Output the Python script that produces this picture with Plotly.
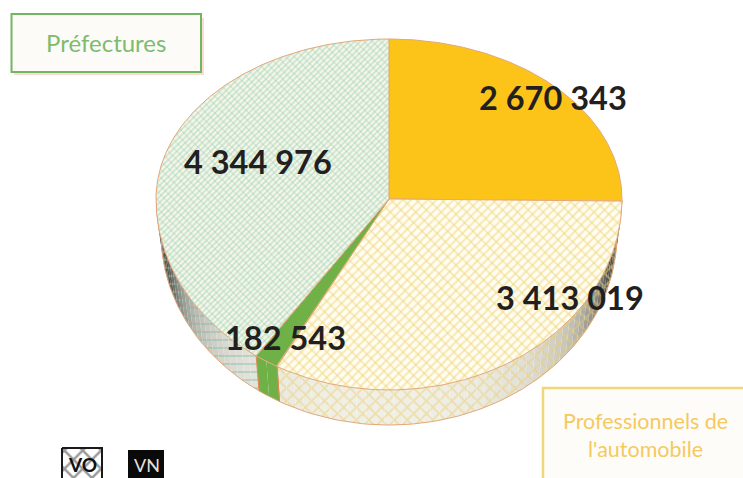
import numpy as np
import plotly.graph_objects as go

categories = ["Préfectures VN", "Professionnels VO", "Préfectures-pro VN", "Préfectures VO"]
ordered_labels = ["2 670 343", "3 413 019", "182 543", "4 344 976"]
values = [2670343, 3413019, 182543, 4344976]

CX, CY, RX, RUP, RDN = 389, 199, 233, 160, 191
DEPTH, RX_B = 35, 228
EDGE = "#e2a878"
NONE = "rgba(0,0,0,0)"

def pt(t, depth=0):
    t = np.asarray(t, float)
    # perspective skew of the lower half
    t = t + np.where((t > np.pi / 2) & (t < 3 * np.pi / 2), 0.045 * np.sin(t - np.pi / 2), 0)
    rx = RX if depth == 0 else RX_B
    c = np.cos(t)
    return CX + rx * np.sin(t), CY + depth + np.where(c > 0, -RUP * c, -RDN * c)

fills = [
    [dict(fillcolor="#fcc418")],
    [dict(fillcolor="#f8efc4", fillpattern=dict(shape="/", size=6, solidity=0.36, fgcolor="#efd574", bgcolor="#fffdf4")),
     dict(fillcolor=NONE, fillpattern=dict(shape="\\", size=9, solidity=0.2, fgcolor="#efd574", bgcolor=NONE))],
    [dict(fillcolor="#6fb146")],
    [dict(fillcolor="#dcebdc", fillpattern=dict(shape="/", size=4, solidity=0.38, fgcolor="#92d2b0", bgcolor="#f8f5ea")),
     dict(fillcolor=NONE, fillpattern=dict(shape="\\", size=6, solidity=0.16, fgcolor="#92d2b0", bgcolor=NONE))],
]
side_fg = ["#e8c860", "#eccb66", "#6fb146", "#7db89c"]
side_shape = ["x", "x", "x", "-"]

fig = go.Figure()
frac = np.cumsum([0] + values) / sum(values) * 2 * np.pi

# side wall, only the front-facing half
front_a, front_b = np.pi / 2, 3 * np.pi / 2
for i in range(4):
    a, b = max(frac[i], front_a), min(frac[i + 1], front_b)
    if b <= a:
        continue
    n = max(1, int((b - a) / 0.04))
    edges = np.linspace(a, b, n + 1)
    for s, e in zip(edges[:-1], edges[1:]):
        tt = np.linspace(s, e, 5)
        x1, y1 = pt(tt)
        x2, y2 = pt(tt[::-1], DEPTH)
        m = (s + e) / 2
        sn = abs(np.sin(m))
        g = max(85, int(240 - 70 * sn ** 3 - 170 * sn ** 12))
        if i == 2:
            trace_fill = dict(fillcolor="#6fb146")
        else:
            c = f"rgb({g},{g},{g-8})"
            trace_fill = dict(fillcolor=c, fillpattern=dict(shape=side_shape[i], size=9 if i != 3 else 8,
                                                            solidity=0.32 if i != 3 else 0.2,
                                                            fgcolor=side_fg[i], bgcolor=c))
        fig.add_trace(go.Scatter(x=np.r_[x1, x2, x1[0]], y=np.r_[y1, y2, y1[0]], mode="lines",
                                 line=dict(width=0), fill="toself", hoverinfo="skip", showlegend=False,
                                 **trace_fill))
    for t in (a, b):
        x0, y0 = pt([t]); x1, y1 = pt([t], DEPTH)
        if a == frac[i] and t == a or b == frac[i + 1] and t == b:
            fig.add_trace(go.Scatter(x=[x0[0], x1[0]], y=[y0[0], y1[0]], mode="lines",
                                     line=dict(width=1, color="#e08a50"), hoverinfo="skip", showlegend=False))
    tt = np.linspace(a, b, 80)
    bx, by = pt(tt, DEPTH)
    fig.add_trace(go.Scatter(x=bx, y=by, mode="lines", line=dict(width=1, color=EDGE),
                             hoverinfo="skip", showlegend=False))

# top face
for i, name in enumerate(categories):
    tt = np.linspace(frac[i], frac[i + 1], 200)
    x, y = pt(tt)
    for j, f in enumerate(fills[i]):
        fig.add_trace(go.Scatter(x=np.r_[CX, x, CX], y=np.r_[CY, y, CY], mode="lines", name=name,
                                 line=dict(width=1 if j == len(fills[i]) - 1 else 0, color=EDGE),
                                 fill="toself", showlegend=False, **f))

# VO swatch
fig.add_trace(go.Scatter(x=[62, 102, 102, 62, 62], y=[448, 448, 480, 480, 448], mode="lines",
                         line=dict(width=2, color="#1a1a1a"), fill="toself", fillcolor="#ddd",
                         fillpattern=dict(shape="x", size=13, solidity=0.35, fgcolor="#333", bgcolor="#fff"),
                         hoverinfo="skip", showlegend=False))

shapes = [
    dict(type="rect", x0=14, y0=18, x1=204, y1=75, fillcolor="#fbdcd0", line=dict(width=0), layer="below"),
    dict(type="rect", x0=11.5, y0=14, x1=201, y1=72, fillcolor="#fdfbf8", line=dict(color="#72b562", width=2), layer="below"),
    dict(type="rect", x0=543, y0=388, x1=760, y1=500, fillcolor="#fdfcf8", line=dict(color="#efd87a", width=2.5), layer="below"),
    dict(type="rect", x0=128, y0=450, x1=164, y1=490, fillcolor="#0a0a0a", line=dict(width=0)),
]

BIG = dict(family="Lato, sans-serif", size=32.5, color="#231f20")
big_pos = [(553, 97), (570, 297), (285, 337), (258, 161)]
ann = [dict(x=px, y=py, text=f"<b>{t}</b>", showarrow=False, font=BIG, xanchor="center", yanchor="middle")
       for t, (px, py) in zip(ordered_labels, big_pos)]
ann += [
    dict(x=106, y=42, text="Préfectures", showarrow=False, font=dict(family="Lato, sans-serif", size=24, color="#7dbb6f")),
    dict(x=645, y=421, text="Professionnels de", showarrow=False, font=dict(family="Lato, sans-serif", size=21.5, color="#f6c95e")),
    dict(x=645, y=449, text="l'automobile", showarrow=False, font=dict(family="Lato, sans-serif", size=21.5, color="#f6c95e")),
    dict(x=82, y=464, text="<b>VO</b>", showarrow=False, font=dict(family="Lato, sans-serif", size=19, color="#111")),
    dict(x=147, y=465, text="VN", showarrow=False, font=dict(family="Lato, sans-serif", size=18, color="#e8e0dc")),
]

fig.update_layout(
    width=743, height=478, margin=dict(l=0, r=0, t=0, b=0),
    paper_bgcolor="white", plot_bgcolor="white", shapes=shapes, annotations=ann,
    xaxis=dict(range=[0, 743], visible=False, fixedrange=True),
    yaxis=dict(range=[478, 0], visible=False, fixedrange=True),
)
fig.write_html("out.html", config=dict(displayModeBar=False),
               post_script="document.body.style.margin='0';document.body.style.overflow='hidden';")
